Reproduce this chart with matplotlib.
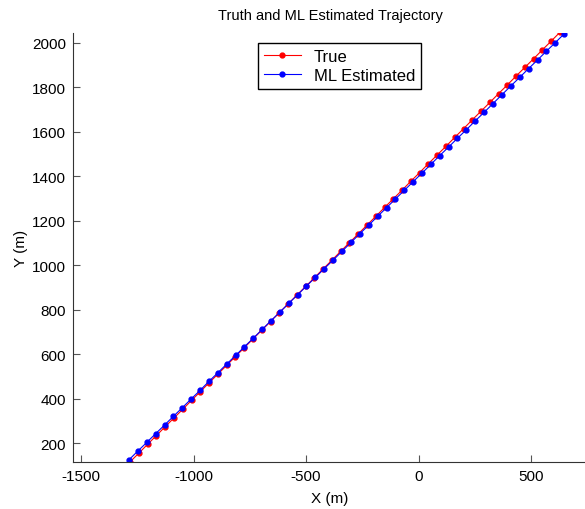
import numpy as np
import matplotlib.pyplot as plt

plt.rc('font', family='Liberation Sans', size=11)
plt.rc('axes', unicode_minus=False)

# true trajectory
x_true = [-1282, -1243, -1204, -1165, -1126, -1087, -1048, -1009, -970, -931,
          -892, -853, -814, -775, -736, -697, -658, -619, -580, -541,
          -502, -463, -424, -385, -346, -307, -268, -229, -190, -151,
          -112, -73, -34, 5, 44, 83, 122, 161, 200, 239,
          278, 317, 356, 395, 434, 473, 512, 551, 590, 629]
y_true = [117, 156, 196, 235, 275, 314, 353, 393, 432, 472,
          511, 550, 590, 629, 669, 708, 747, 787, 826, 866,
          905, 944, 984, 1023, 1063, 1102, 1141, 1181, 1220, 1260,
          1299, 1338, 1378, 1417, 1457, 1496, 1535, 1575, 1614, 1654,
          1693, 1732, 1772, 1811, 1851, 1890, 1929, 1969, 2008, 2048]

# ML estimate
x_ml = [-1287, -1248, -1208, -1169, -1129, -1090, -1050, -1011, -971, -932,
        -892, -853, -813, -774, -734, -695, -656, -616, -577, -537,
        -498, -458, -419, -379, -340, -300, -261, -221, -182, -142,
        -103, -63, -24, 16, 55, 94, 134, 173, 213, 252,
        292, 331, 371, 410, 450, 489, 529, 568, 608, 647]
y_ml = [126, 165, 204, 243, 282, 321, 360, 399, 438, 478,
        517, 556, 595, 634, 673, 712, 751, 790, 829, 868,
        907, 946, 985, 1024, 1063, 1103, 1142, 1181, 1220, 1259,
        1298, 1337, 1376, 1415, 1454, 1493, 1532, 1571, 1610, 1649,
        1688, 1727, 1767, 1806, 1845, 1884, 1923, 1962, 2001, 2040]

fig = plt.figure(figsize=(5.85, 5.1), dpi=100)
ax = fig.add_axes([0.1248, 0.0922, 0.879, 0.841])

ax.plot(x_true, y_true, '.-', color='r', lw=0.8, ms=7, label='True')
ax.plot(x_ml, y_ml, '.-', color='b', lw=0.8, ms=7, label='ML Estimated')

ax.set_xlim(-1536, 750)
ax.set_ylim(116, 2044)
ax.set_xticks([-1500, -1000, -500, 0, 500])
ax.set_yticks(range(200, 2001, 200))

for s in ['top', 'right']:
    ax.spines[s].set_visible(False)
for s in ['left', 'bottom']:
    ax.spines[s].set_color('#333333')
ax.tick_params(direction='in', length=5, color='#555555', labelcolor='black', pad=5)

ax.set_title('Truth and ML Estimated Trajectory', fontsize=10.5, pad=10)
ax.set_xlabel('X (m)', labelpad=6)
ax.set_ylabel('Y (m)', labelpad=3)

leg = ax.legend(loc='upper left', bbox_to_anchor=(0.36, 0.977), borderaxespad=0,
                fancybox=False, edgecolor='black', framealpha=1, fontsize=12,
                handlelength=2.2, labelspacing=0.25, borderpad=0.35)
leg.get_frame().set_linewidth(1.0)

plt.savefig('out.png', dpi=100)
